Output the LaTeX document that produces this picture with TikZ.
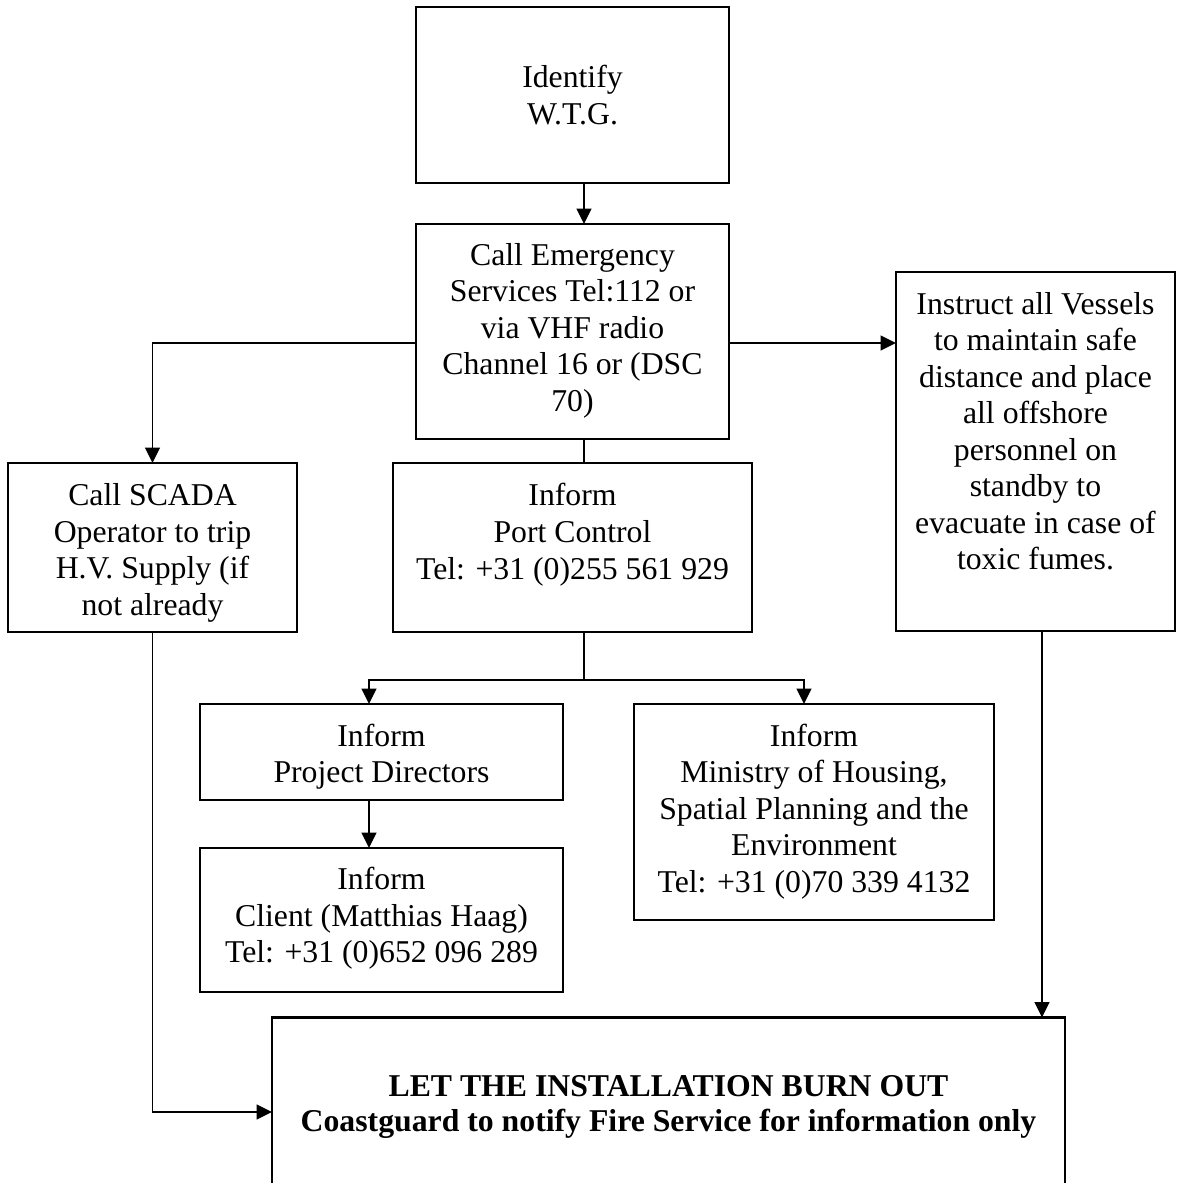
\documentclass[tikz,border=0pt]{standalone}
\usepackage{fontspec}
\setmainfont{Liberation Serif}
\usetikzlibrary{arrows.meta,positioning}

\begin{document}
\begin{tikzpicture}[
 x=0.378pt, y=-0.378pt, >={Triangle[length=5.8pt,width=5.6pt]},
 font=\fontsize{12}{13.8}\selectfont,
 box/.style 2 args={draw, line width=0.8pt, inner sep=0pt, outer sep=0pt, align=center,
   minimum width=#1*0.378pt, minimum height=#2*0.378pt},
 txt/.style={inner sep=0pt, align=center},
 link/.style={line width=0.65pt}, arr/.style={link, ->}]
\useasboundingbox (0,0) rectangle (1177,1183);

% boxes
\node[box={313}{176}] (ident) at (572.5,95) {Identify\\ W.T.G.};
\node[box={313}{215}] (emerg) at (572.5,331.5) {};
\node[txt, below=7pt of emerg.north] (emergT) {Call Emergency\\ Services Tel:112 or\\ via VHF radio\\ Channel 16 or (DSC\\ 70)};
\node[box={289}{169}] (scada) at (152.5,547.5) {};
\node[txt, below=7.6pt of scada.north] (scadaT) {Call SCADA\\ Operator to trip\\ H.V. Supply (if\\ not already};
\node[box={359}{169}] (port) at (572.5,547.5) {};
\node[txt, below=7.6pt of port.north] (portT) {Inform\\ Port Control\\ Tel: +31 (0)255 561 929};
\node[box={279}{359}] (instr) at (1035.5,451.5) {};
\node[txt, below=7.4pt of instr.north] (instrT) {Instruct all Vessels\\ to maintain safe\\ distance and place\\ all offshore\\ personnel on\\ standby to\\ evacuate in case of\\ toxic fumes.};
\node[box={363}{96}] (projd) at (381.5,752) {};
\node[txt, below=7.4pt of projd.north] (projdT) {Inform\\ Project Directors};
\node[box={363}{144}] (client) at (381.5,920) {};
\node[txt, below=7.2pt of client.north] (clientT) {Inform\\ Client (Matthias Haag)\\ Tel: +31 (0)652 096 289};
\node[box={360}{216}] (minis) at (814,812) {};
\node[txt, below=7.4pt of minis.north] (minisT) {Inform\\ Ministry of Housing,\\ Spatial Planning and the\\ Environment\\ Tel: +31 (0)70 339 4132};
\node[box={793}{179}, font=\fontsize{12}{13.2}\selectfont\bfseries] (final) at (668.5,1107)
  {LET THE INSTALLATION BURN OUT\\ Coastguard to notify Fire Service for information only};

% routing points
\coordinate (spine) at (584,0);
\coordinate (tap) at (0,343);
\coordinate (fork) at (584,680);
\coordinate (lpd) at (369,0);
\coordinate (rmin) at (804,0);
\coordinate (rin) at (1042,0);
\coordinate (burn) at (0,1112);

% connectors
\draw[arr] (ident.south -| spine) -- (emerg.north -| spine);
\draw[arr] (emerg.west |- tap) -- (scada.north |- tap) -- (scada.north);
\draw[arr] (emerg.east |- tap) -- (instr.west |- tap);
\draw[link] (emerg.south -| spine) -- (port.north -| spine);
\draw[link] (port.south -| spine) -- (fork);
\draw[arr] (fork) -| (projd.north -| lpd);
\draw[arr] (fork) -| (minis.north -| rmin);
\draw[arr] (projd.south -| lpd) -- (client.north -| lpd);
\draw[arr] (scada.south) |- (final.west |- burn);
\draw[arr] (instr.south -| rin) -- (final.north -| rin);
\end{tikzpicture}
\end{document}
